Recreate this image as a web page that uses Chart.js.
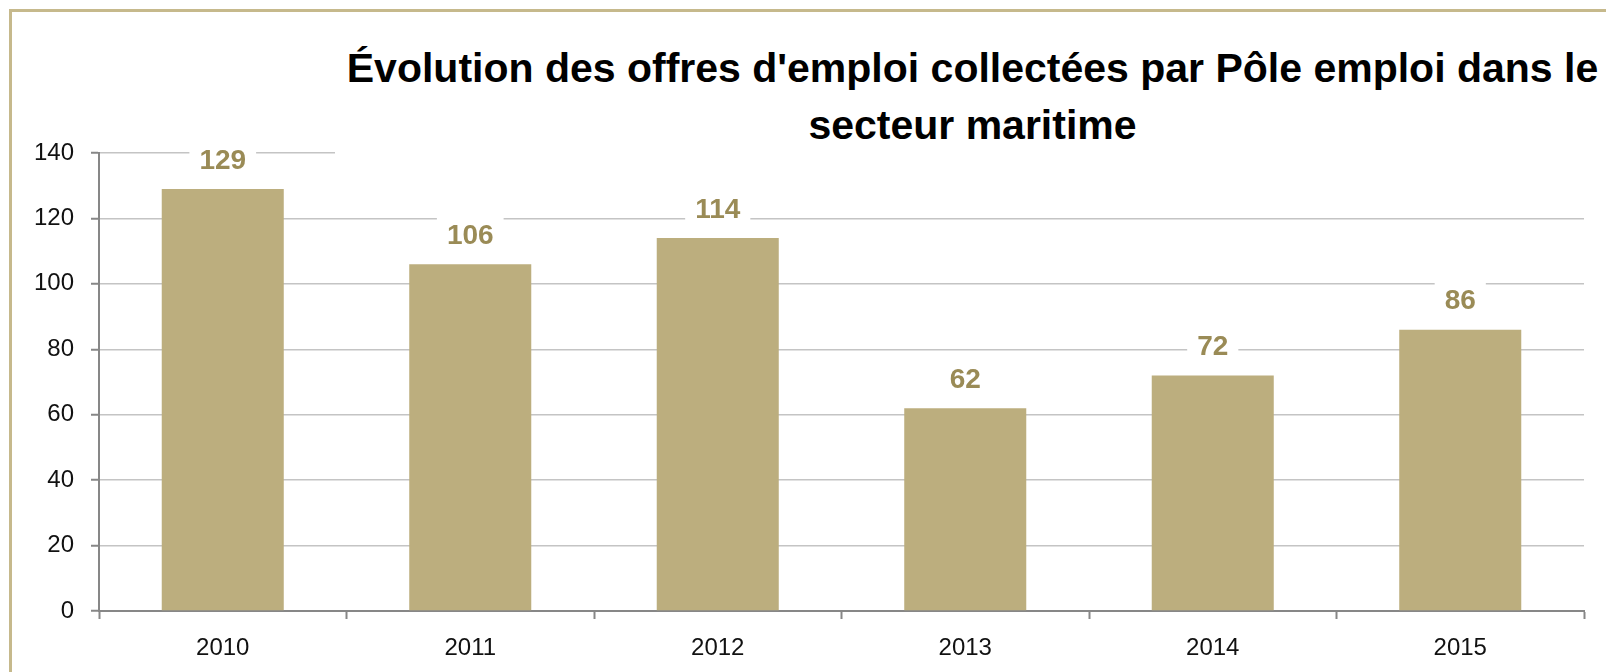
<!DOCTYPE html>
<html>
<head>
<meta charset="utf-8">
<script src="https://cdn.jsdelivr.net/npm/chart.js@4.4.1/dist/chart.umd.min.js"></script>
<style>
  html, body { margin: 0; padding: 0; width: 1606px; height: 672px; overflow: hidden; background: #fff; }
  #frame { position: absolute; left: 9px; top: 9px; width: 2000px; height: 2000px; border: 3px solid #c6b98c; box-sizing: border-box; }
  #wrap { position: absolute; left: 0; top: 0; width: 1606px; height: 672px; }
  #title { position: absolute; left: 335px; top: 40px; width: 1275px; padding-bottom: 8px; background: #fff;
           font-family: 'Liberation Sans', Arial, sans-serif; font-weight: bold; font-size: 41px; line-height: 57px;
           text-align: center; white-space: nowrap; color: #000; }
</style>
</head>
<body>
<div id="frame"></div>
<div id="wrap"><canvas id="c" width="1606" height="672"></canvas></div>
<div id="title">Évolution des offres d'emploi collectées par Pôle emploi dans le<br>secteur maritime</div>
<script>
const categories = ['2010', '2011', '2012', '2013', '2014', '2015'];
const offres = [129, 106, 114, 62, 72, 86];
const yTicks = [0, 20, 40, 60, 80, 100, 120, 140];

const FONT = "'Liberation Sans', Arial, sans-serif";

const barLabels = {
  id: 'barLabels',
  afterDatasetsDraw(chart) {
    const ctx = chart.ctx;
    const meta = chart.getDatasetMeta(0);
    ctx.save();
    ctx.font = 'bold 28px ' + FONT;
    ctx.textAlign = 'center';
    ctx.textBaseline = 'middle';
    meta.data.forEach((el, i) => {
      const txt = String(chart.data.datasets[0].data[i]);
      const w = ctx.measureText(txt).width + 20;
      const cy = el.y - 30;
      ctx.fillStyle = '#ffffff';
      ctx.fillRect(el.x - w / 2, cy - 19, w, 38);
      ctx.fillStyle = '#9a8b56';
      ctx.fillText(txt, el.x, cy + 2);
    });
    ctx.restore();
  }
};

new Chart(document.getElementById('c'), {
  type: 'bar',
  data: {
    labels: categories,
    datasets: [{
      data: offres,
      backgroundColor: '#bcae7e',
      borderWidth: 0,
      categoryPercentage: 1.0,
      barPercentage: 0.493
    }]
  },
  options: {
    responsive: false,
    animation: false,
    devicePixelRatio: 1,
    layout: { padding: { left: 0, right: 22, top: 153, bottom: 0 } },
    plugins: { legend: { display: false }, title: { display: false }, tooltip: { enabled: false } },
    scales: {
      x: {
        offset: true,
        grid: { display: true, offset: true, drawOnChartArea: false, drawTicks: true, tickLength: 8, tickColor: '#878787', tickWidth: 2 },
        border: { display: true, color: '#878787', width: 2 },
        ticks: { color: '#111', font: { family: FONT, size: 24 }, padding: 15, maxRotation: 0 },
        afterFit(s) { s.height = 61; }
      },
      y: {
        min: 0, max: 140,
        afterBuildTicks(s) { s.ticks = yTicks.map(v => ({ value: v })); },
        grid: { color: '#c4c4c4', lineWidth: 1.5, tickLength: 8, tickColor: '#878787', tickWidth: 2 },
        border: { display: true, color: '#878787', width: 2 },
        ticks: { color: '#111', font: { family: FONT, size: 24 }, padding: 17 },
        afterFit(s) { s.width = 99; }
      }
    }
  },
  plugins: [barLabels]
});
</script>
</body>
</html>
